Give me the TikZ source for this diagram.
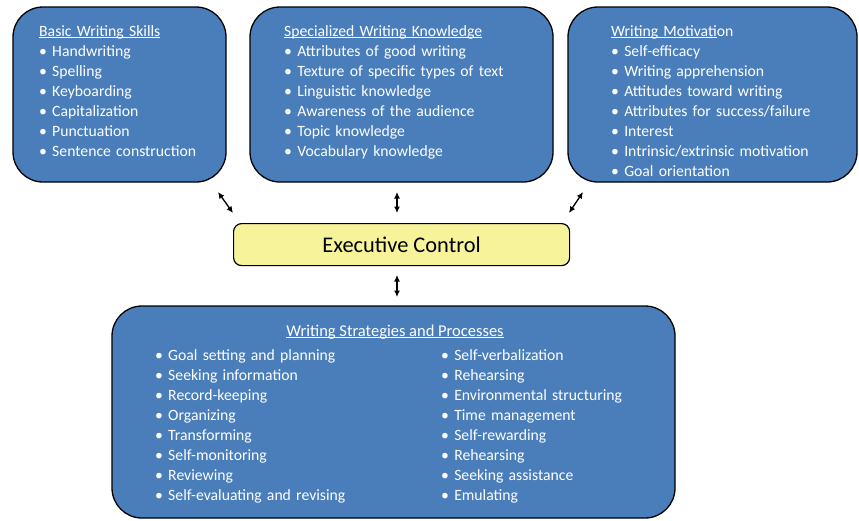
\documentclass[tikz,border=0pt]{standalone}
\usepackage{fontspec}
\setmainfont{Carlito}
\usetikzlibrary{arrows.meta}
\definecolor{boxblue}{HTML}{4A7EBB}
\definecolor{ecyellow}{HTML}{F7F39B}
\newcommand\myul[1]{\setbox0\hbox{#1}\rlap{\rule[-2.2pt]{\wd0}{0.9pt}}\box0}
\tikzset{
  bigbox/.style={draw=black, line width=1.3pt, fill=boxblue, rounded corners=30pt},
  ecbox/.style={draw=black, line width=1.2pt, fill=ecyellow, rounded corners=8pt},
  listtext/.style={text=white, inner sep=0pt, anchor=base west, text width=#1,
     font=\fontsize{15.7}{20}\selectfont, align=left},
  dblarrow/.style={{Latex[length=6.5pt,width=6pt]}-{Latex[length=6.5pt,width=6pt]}, line width=1.3pt}
}
\begin{document}
\begin{tikzpicture}[x=1pt,y=-1pt]
\useasboundingbox (0,0) rectangle (859,520);
% boxes
\draw[bigbox] (13,7) rectangle (226,182);
\draw[bigbox] (250,7) rectangle (553,182);
\draw[bigbox] (568,7) rectangle (857,182);
\draw[bigbox] (112,306) rectangle (675,518);
\node[ecbox, minimum width=336pt, minimum height=42pt, anchor=north west,
      font=\fontsize{22.4}{26}\selectfont, inner sep=0pt] (ec) at (233,223) {Executive Control};
% texts
\node[listtext=200pt] (bws) at (39,36) {\myul{Basic Writing Skills}\\
\textbullet\ Handwriting\\
\textbullet\ Spelling\\
\textbullet\ Keyboarding\\
\textbullet\ Capitalization\\
\textbullet\ Punctuation\\
\textbullet\ Sentence construction};
\node[listtext=260pt] (swk) at (284,36) {\myul{Specialized Writing Knowledge}\\
\textbullet\ Attributes of good writing\\
\textbullet\ Texture of specific types of text\\
\textbullet\ Linguistic knowledge\\
\textbullet\ Awareness of the audience\\
\textbullet\ Topic knowledge\\
\textbullet\ Vocabulary knowledge};
\node[listtext=240pt] (wm) at (611,36) {\myul{Writing Motivati}on\\
\textbullet\ Self-efficacy\\
\textbullet\ Writing apprehension\\
\textbullet\ Attitudes toward writing\\
\textbullet\ Attributes for success/failure\\
\textbullet\ Interest\\
\textbullet\ Intrinsic/extrinsic motivation\\
\textbullet\ Goal orientation};
\node[text=white, inner sep=0pt, anchor=base, font=\fontsize{16.5}{20}\selectfont] (wsp) at (395,336) {\myul{Writing Strategies and Processes}};
\node[listtext=260pt] (colA) at (155,360) {\textbullet\ Goal setting and planning\\
\textbullet\ Seeking information\\
\textbullet\ Record-keeping\\
\textbullet\ Organizing\\
\textbullet\ Transforming\\
\textbullet\ Self-monitoring\\
\textbullet\ Reviewing\\
\textbullet\ Self-evaluating and revising};
\node[listtext=220pt] (colB) at (441,360) {\textbullet\ Self-verbalization\\
\textbullet\ Rehearsing\\
\textbullet\ Environmental structuring\\
\textbullet\ Time management\\
\textbullet\ Self-rewarding\\
\textbullet\ Rehearsing\\
\textbullet\ Seeking assistance\\
\textbullet\ Emulating};
% arrows
\coordinate (a1s) at (218,192); \coordinate (a1e) at (233,213);
\coordinate (a2s) at (397,192); \coordinate (a2e) at (397,213);
\coordinate (a3s) at (583,192); \coordinate (a3e) at (569,213);
\coordinate (a4s) at (397,275); \coordinate (a4e) at (397,297);
\draw[dblarrow] (a1s) -- (a1e);
\draw[dblarrow] (a2s) -- (a2e);
\draw[dblarrow] (a3s) -- (a3e);
\draw[dblarrow] (a4s) -- (a4e);
\end{tikzpicture}
\end{document}
